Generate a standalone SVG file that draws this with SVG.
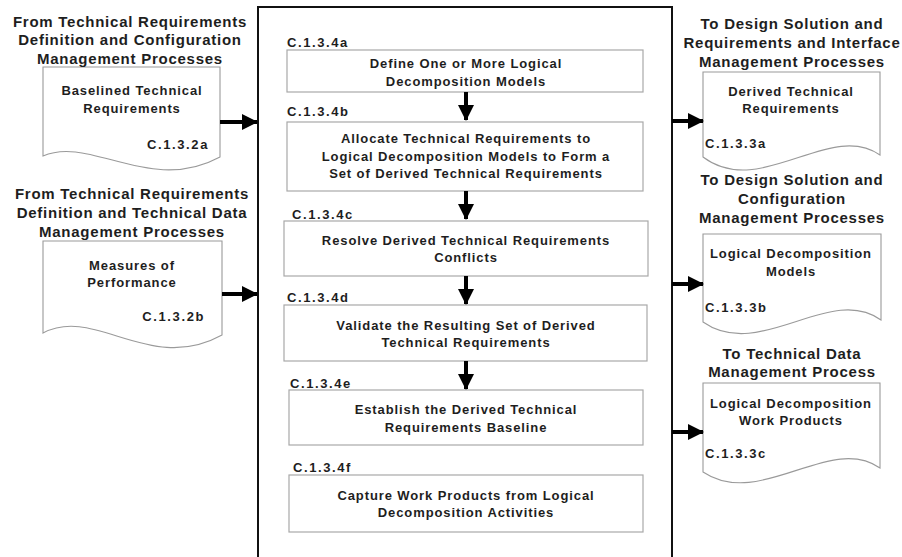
<svg xmlns="http://www.w3.org/2000/svg" width="902" height="557" viewBox="0 0 902 557">
<style>
text{font-family:"Liberation Sans",Arial,sans-serif;font-weight:bold;fill:#1e1e1e}
.hdr{font-size:15px;letter-spacing:0.75px;text-anchor:middle}
.txt{font-size:13px;letter-spacing:0.9px;text-anchor:middle}
.code{font-size:13px;letter-spacing:1.6px}
.end{text-anchor:end}
.box{fill:#fff;stroke:#a8a8a8;stroke-width:1.2}
.doc{fill:#fff;stroke:#9a9a9a;stroke-width:1.1}
.main{fill:#fff;stroke:#111;stroke-width:2}
.arr{stroke:#000;stroke-width:4;fill:none;marker-end:url(#ah)}
</style>
<defs>
<marker id="ah" markerUnits="userSpaceOnUse" markerWidth="16" markerHeight="16" refX="15" refY="8" orient="auto">
<path d="M0,0 L16,8 L0,16 Z" fill="#000"/>
</marker>
</defs>
<rect width="902" height="557" fill="#fff"/>
<g id="main-process">
<rect class="main" x="258" y="7" width="414" height="560"/>
</g>
<g id="n-c134a">
<rect class="box" x="287" y="50" width="356" height="42"/>
<text class="code" x="287" y="47">C.1.3.4a</text>
<text class="txt" x="466" y="67.5">Define One or More Logical</text>
<text class="txt" x="466" y="85.5">Decomposition Models</text>
</g>
<g id="n-c134b">
<rect class="box" x="287" y="122" width="356" height="69"/>
<text class="code" x="287" y="116">C.1.3.4b</text>
<text class="txt" x="466" y="143">Allocate Technical Requirements to</text>
<text class="txt" x="466" y="161">Logical Decomposition Models to Form a</text>
<text class="txt" x="466" y="178">Set of Derived Technical Requirements</text>
</g>
<g id="n-c134c">
<rect class="box" x="284" y="221" width="364" height="55"/>
<text class="code" x="292" y="219">C.1.3.4c</text>
<text class="txt" x="466" y="244.5">Resolve Derived Technical Requirements</text>
<text class="txt" x="466" y="261.5">Conflicts</text>
</g>
<g id="n-c134d">
<rect class="box" x="284" y="305" width="363" height="56"/>
<text class="code" x="287" y="302">C.1.3.4d</text>
<text class="txt" x="466" y="329.5">Validate the Resulting Set of Derived</text>
<text class="txt" x="466" y="346.5">Technical Requirements</text>
</g>
<g id="n-c134e">
<rect class="box" x="289" y="390" width="354" height="55"/>
<text class="code" x="290" y="388">C.1.3.4e</text>
<text class="txt" x="466" y="413.5">Establish the Derived Technical</text>
<text class="txt" x="466" y="431.5">Requirements Baseline</text>
</g>
<g id="n-c134f">
<rect class="box" x="289" y="475" width="354" height="57"/>
<text class="code" x="293" y="472">C.1.3.4f</text>
<text class="txt" x="466" y="499.5">Capture Work Products from Logical</text>
<text class="txt" x="466" y="516.5">Decomposition Activities</text>
</g>
<g id="in-c132a">
<path class="doc" d="M43,67 H220 V157 C150,195 90,135 43,156 Z"/>
<text class="hdr" x="130" y="26.5">From Technical Requirements</text>
<text class="hdr" x="130" y="45">Definition and Configuration</text>
<text class="hdr" x="130" y="63.5">Management Processes</text>
<text class="txt" x="132" y="94.5">Baselined Technical</text>
<text class="txt" x="132" y="112.5">Requirements</text>
<text class="code end" x="209" y="148.5">C.1.3.2a</text>
</g>
<g id="in-c132b">
<path class="doc" d="M43,241 H222 V335 C150,375 95,305 43,333 Z"/>
<text class="hdr" x="132" y="198.5">From Technical Requirements</text>
<text class="hdr" x="132" y="217.5">Definition and Technical Data</text>
<text class="hdr" x="132" y="236.5">Management Processes</text>
<text class="txt" x="132" y="270">Measures of</text>
<text class="txt" x="132" y="287">Performance</text>
<text class="code end" x="205" y="320.5">C.1.3.2b</text>
</g>
<g id="out-c133a">
<path class="doc" d="M703,72 H880 V155 C830,120 760,200 703,157 Z"/>
<text class="hdr" x="792" y="29">To Design Solution and</text>
<text class="hdr" x="792" y="48">Requirements and Interface</text>
<text class="hdr" x="792" y="67">Management Processes</text>
<text class="txt" x="791" y="95.5">Derived Technical</text>
<text class="txt" x="791" y="113">Requirements</text>
<text class="code" x="705" y="147.5">C.1.3.3a</text>
</g>
<g id="out-c133b">
<path class="doc" d="M703,234 H881 V320 C830,283 760,362 703,322 Z"/>
<text class="hdr" x="792" y="184.5">To Design Solution and</text>
<text class="hdr" x="792" y="204">Configuration</text>
<text class="hdr" x="792" y="223">Management Processes</text>
<text class="txt" x="791" y="257.5">Logical Decomposition</text>
<text class="txt" x="791" y="275.5">Models</text>
<text class="code" x="705" y="311.5">C.1.3.3b</text>
</g>
<g id="out-c133c">
<path class="doc" d="M703,383 H880 V468 C830,433 760,510 703,472 Z"/>
<text class="hdr" x="792" y="358.5">To Technical Data</text>
<text class="hdr" x="792" y="376.5">Management Process</text>
<text class="txt" x="791" y="407.5">Logical Decomposition</text>
<text class="txt" x="791" y="425">Work Products</text>
<text class="code" x="705" y="457.5">C.1.3.3c</text>
</g>
<g id="connectors">
<line class="arr" x1="466" y1="92" x2="466" y2="120"/>
<line class="arr" x1="466" y1="191" x2="466" y2="219"/>
<line class="arr" x1="466" y1="276" x2="466" y2="304"/>
<line class="arr" x1="466" y1="361" x2="466" y2="389"/>
<line class="arr" x1="220" y1="122" x2="257" y2="122"/>
<line class="arr" x1="222" y1="294" x2="257" y2="294"/>
<line class="arr" x1="672" y1="121" x2="703" y2="121"/>
<line class="arr" x1="672" y1="284" x2="703" y2="284"/>
<line class="arr" x1="672" y1="432" x2="703" y2="432"/>
</g>
</svg>
